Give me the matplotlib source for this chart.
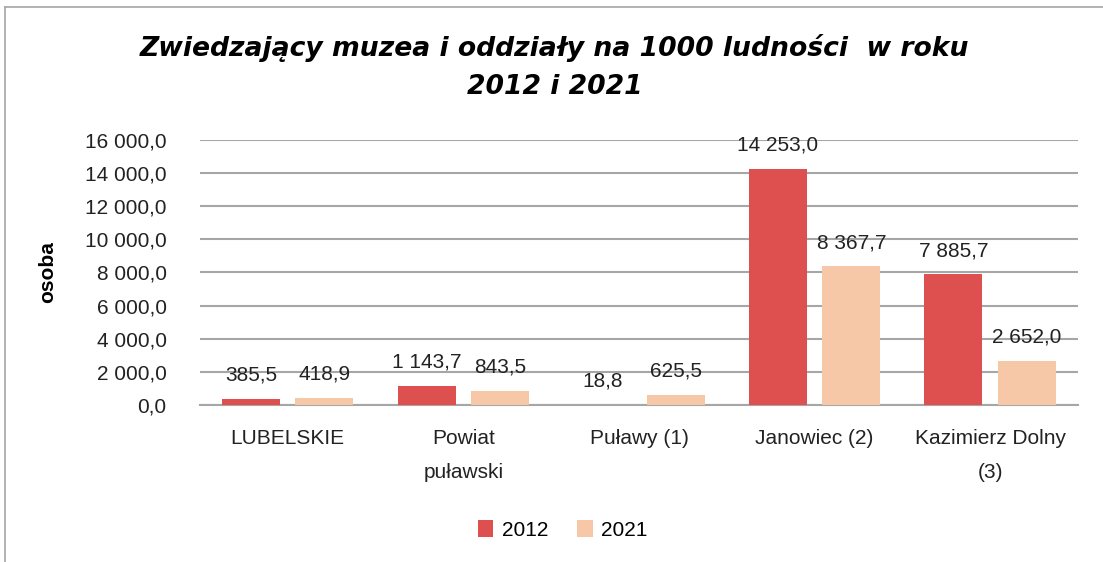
import matplotlib
matplotlib.use("Agg")
import matplotlib.pyplot as plt
import numpy as np
from matplotlib.lines import Line2D

plt.rcParams['font.family'] = ['Liberation Sans', 'DejaVu Sans']

categories = ["LUBELSKIE", "Powiat\npuławski", "Puławy (1)", "Janowiec (2)", "Kazimierz Dolny\n(3)"]
years = ["2012", "2021"]
vals_2012 = [385.5, 1143.7, 18.8, 14253.0, 7885.7]
vals_2021 = [418.9, 843.5, 625.5, 8367.7, 2652.0]
yticks = [0, 2000, 4000, 6000, 8000, 10000, 12000, 14000, 16000]

RED = '#DE5050'
PEACH = '#F7C8A8'
GRID = '#A6A6A6'


def pl_fmt(v):
    s = f"{v:,.1f}"
    return s.replace(",", " ").replace(".", ",")


fig = plt.figure(figsize=(11.03, 5.62), dpi=100)
ax = fig.add_axes([0.1813, 0.2794, 0.796, 0.4715])

x = np.arange(len(categories))
w = 0.33
off = 0.209
b1 = ax.bar(x - off, vals_2012, w, color=RED, label=years[0], zorder=3)
b2 = ax.bar(x + off, vals_2021, w, color=PEACH, label=years[1], zorder=3)

for bars, vals in [(b1, vals_2012), (b2, vals_2021)]:
    for rect, v in zip(bars, vals):
        ax.annotate(pl_fmt(v), (rect.get_x() + rect.get_width() / 2, v),
                    xytext=(0, 17), textcoords='offset points',
                    ha='center', va='center', fontsize=15, color='#222222', zorder=4)

ax.set_xlim(-0.5, len(categories) - 0.5)
ax.set_ylim(0, 16000)
ax.set_yticks(yticks)
ax.set_yticklabels([pl_fmt(t) for t in yticks])
ax.set_xticks(x)
ax.set_xticklabels(categories, linespacing=2.0)
ax.tick_params(axis='y', length=0, pad=24, labelsize=15, colors='#222222')
ax.tick_params(axis='x', length=0, pad=17, labelsize=15, colors='#222222')
ax.grid(axis='y', color=GRID, linewidth=1.5, zorder=0)
for s in ['top', 'right', 'left']:
    ax.spines[s].set_visible(False)
ax.spines['bottom'].set_color(GRID)
ax.spines['bottom'].set_linewidth(1.5)

ax.set_ylabel("osoba", fontsize=15, fontweight='bold')
ax.yaxis.set_label_coords(-0.163, 0.5)

fig.text(0.503, 1 - 67 / 562, "Zwiedzający muzea i oddziały na 1000 ludności  w roku\n2012 i 2021",
         ha='center', va='center', fontsize=19.2, fontweight='bold', style='italic',
         family=['DejaVu Sans'], linespacing=1.55)

fig.legend(handles=[b1, b2], labels=years, loc='center', bbox_to_anchor=(0.51, 1 - 530 / 562),
           ncol=2, frameon=False, fontsize=15, handlelength=0.75, handleheight=0.9,
           handletextpad=0.4, columnspacing=1.4)

# chart frame (left and top edges)
fig.add_artist(Line2D([5 / 1103, 5 / 1103], [0, 1 - 7 / 562], color=GRID, linewidth=1.2,
                      transform=fig.transFigure))
fig.add_artist(Line2D([5 / 1103, 1], [1 - 7 / 562, 1 - 7 / 562], color=GRID, linewidth=1.2,
                      transform=fig.transFigure))

fig.savefig("out.png", dpi=100)
